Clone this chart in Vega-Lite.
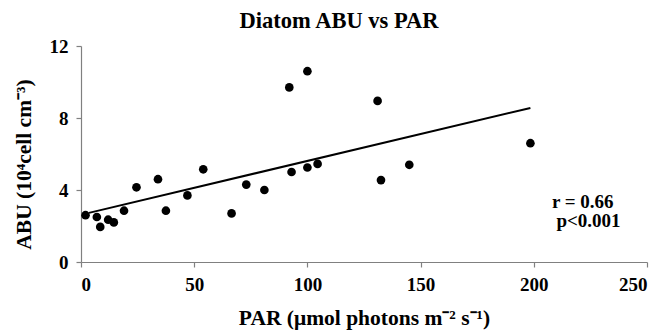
{
  "$schema": "https://vega.github.io/schema/vega-lite/v6.json",
  "autosize": {"type": "none"},
  "width": 566,
  "height": 216,
  "padding": {"left": 81, "top": 46, "right": 18, "bottom": 69},
  "background": "white",
  "config": {
    "view": {"stroke": null},
    "font": "Liberation Serif",
    "title": {
      "font": "Liberation Serif",
      "fontSize": 22.5,
      "fontWeight": "bold",
      "color": "black",
      "anchor": "middle",
      "dx": -25,
      "offset": 5
    },
    "axis": {
      "domainColor": "#808080",
      "tickColor": "#808080",
      "domainWidth": 1.2,
      "tickWidth": 1.2,
      "tickSize": 5,
      "grid": false,
      "labelFont": "Liberation Serif",
      "labelFontWeight": "bold",
      "labelFontSize": 19,
      "labelColor": "black",
      "titleFont": "Liberation Serif",
      "titleFontWeight": "bold",
      "titleFontSize": 21.5,
      "titleColor": "black"
    }
  },
  "title": "Diatom ABU vs  PAR",
  "datasets": {
    "points": [
      {"PAR": 2, "ABU": 2.6},
      {"PAR": 7, "ABU": 2.5},
      {"PAR": 8.5, "ABU": 1.95},
      {"PAR": 12, "ABU": 2.35},
      {"PAR": 14.5, "ABU": 2.2},
      {"PAR": 19, "ABU": 2.85},
      {"PAR": 24.5, "ABU": 4.15},
      {"PAR": 34, "ABU": 4.6},
      {"PAR": 37.5, "ABU": 2.85},
      {"PAR": 47, "ABU": 3.7},
      {"PAR": 54, "ABU": 5.15},
      {"PAR": 66.5, "ABU": 2.7},
      {"PAR": 73, "ABU": 4.3},
      {"PAR": 81, "ABU": 4.0},
      {"PAR": 92, "ABU": 9.7},
      {"PAR": 93, "ABU": 5.0},
      {"PAR": 100, "ABU": 10.6},
      {"PAR": 100, "ABU": 5.25},
      {"PAR": 104.5, "ABU": 5.45},
      {"PAR": 131, "ABU": 8.95},
      {"PAR": 132.5, "ABU": 4.55},
      {"PAR": 145, "ABU": 5.4},
      {"PAR": 198.5, "ABU": 6.6}
    ],
    "fit": [
      {"PAR": 3.5, "ABU": 2.73},
      {"PAR": 198.5, "ABU": 8.56}
    ],
    "notes": [
      {"label": "r = 0.66", "px": 208, "py": 3.0},
      {"label": "p<0.001", "px": 210, "py": 1.95}
    ]
  },
  "layer": [
    {
      "data": {"name": "fit"},
      "mark": {"type": "line", "color": "black", "strokeWidth": 2},
      "encoding": {
        "x": {
          "field": "PAR", "type": "quantitative",
          "scale": {"domain": [0, 250], "nice": false},
          "axis": {"values": [0, 50, 100, 150, 200, 250], "title": "PAR (μmol photons m⁻² s⁻¹)", "labelPadding": 8, "titlePadding": 13}
        },
        "y": {
          "field": "ABU", "type": "quantitative",
          "scale": {"domain": [0, 12], "nice": false},
          "axis": {"values": [0, 4, 8, 12], "title": "ABU (10⁴cell cm⁻³)", "labelPadding": 8, "titlePadding": 14, "titleY": 118}
        }
      }
    },
    {
      "data": {"name": "points"},
      "mark": {"type": "circle", "color": "black", "opacity": 1, "size": 75},
      "encoding": {
        "x": {"field": "PAR", "type": "quantitative"},
        "y": {"field": "ABU", "type": "quantitative"}
      }
    },
    {
      "data": {"name": "notes"},
      "mark": {"type": "text", "font": "Liberation Serif", "fontSize": 19, "fontWeight": "bold", "color": "black", "align": "left", "baseline": "alphabetic"},
      "encoding": {
        "x": {"field": "px", "type": "quantitative"},
        "y": {"field": "py", "type": "quantitative"},
        "text": {"field": "label"}
      }
    }
  ]
}
